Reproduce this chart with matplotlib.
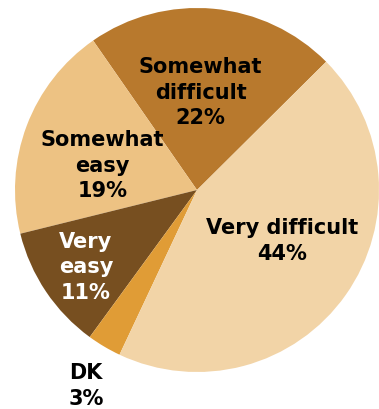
import matplotlib
matplotlib.use("Agg")
import matplotlib.pyplot as plt

# Share of answers, listed counter-clockwise from the top-right boundary
labels = ["Somewhat\ndifficult", "Somewhat\neasy", "Very\neasy", "DK", "Very difficult"]
values = [22, 19, 11, 3, 44]
colors = ["#B8792D", "#EDC283", "#774F20", "#E09C36", "#F2D4A7"]
text_colors = ["black", "black", "white", "black", "black"]

# where each label sits, in pie radius units
label_pos = [(0.02, 0.54), (-0.52, 0.14), (-0.61, -0.42), (-0.61, -1.07), (0.47, -0.275)]

fig = plt.figure(figsize=(3.79, 4.10), dpi=100)
ax = fig.add_axes([15 / 379, 36 / 410, 364 / 379, 366 / 410])

ax.pie(values, colors=colors, startangle=44.8, counterclock=True,
       wedgeprops=dict(linewidth=0))

for lab, val, (x, y), tc in zip(labels, values, label_pos, text_colors):
    ax.text(x, y, "%s\n%d%%" % (lab, val), ha="center", va="center",
            fontsize=15, fontweight="bold", color=tc, linespacing=1.35,
            family="DejaVu Sans")

ax.set_xlim(-1, 1)
ax.set_ylim(-1, 1)
ax.set_aspect("equal")
ax.axis("off")

fig.savefig("out.png", dpi=100)
